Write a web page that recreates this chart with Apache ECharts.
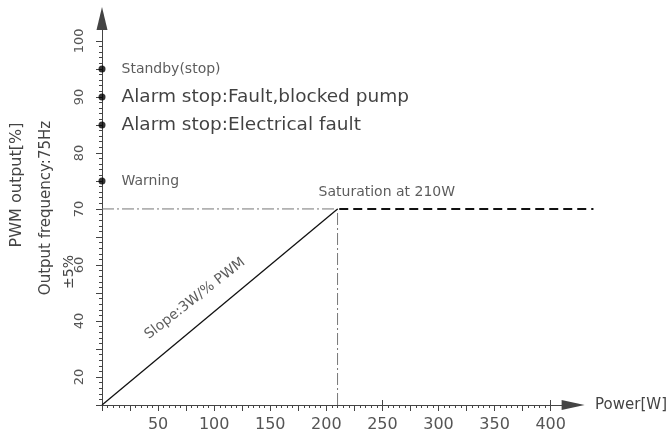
<!DOCTYPE html>
<html>
<head>
<meta charset="utf-8">
<script src="https://cdn.jsdelivr.net/npm/echarts@6/dist/echarts.min.js"></script>
<style>
  html, body { margin: 0; padding: 0; background: #fff; }
  #chart { width: 670px; height: 443px; }
</style>
</head>
<body>
<div id="chart"></div>
<script>
// 刻度标签
const xTickLabels = [50, 100, 150, 200, 250, 300, 350, 400];
const yTickLabels = [20, 40, 60, 70, 80, 90, 100];

// y 轴上的状态点
const markerPct = [95, 90, 85, 75];
const markerText = ['Standby(stop)', 'Alarm stop:Fault,blocked pump', 'Alarm stop:Electrical fault', 'Warning'];
const markerFont = [14, 18.5, 18.5, 14];

// 曲线 [W, %]
const slopeLine = [[0, 10], [210, 70]];
const satLine = [[210, 70], [435, 70]];
const refH = [[0, 70], [210, 70]];
const refV = [[210, 10], [210, 70]];

const FONT = 'DejaVu Sans';

/** y 轴是折断的：60% 以上每格 10%，以下每格 20% */
function toAxis(p) {
  return p >= 60 ? p - 35 : p / 2 - 5;
}
function fromAxis(v) {
  return Math.round(v >= 25 ? v + 35 : (v + 5) * 2);
}
const mapPts = pts => pts.map(([x, p]) => [x, toAxis(p)]);

// 刻度位置（主刻度/次刻度）
const range = (a, b, s) => { const r = []; for (let v = a; v <= b; v += s) r.push(v); return r; };
const xMajor = range(0, 400, 25), xMinor = range(0, 400, 5);
const yMajor = range(0, 65, 5), yMinor = range(0, 65, 1);

const X_MAX = 420, Y_MAX = 69;
const PX_PER_W = 474.5 / X_MAX;
const X_MAX2 = 440;   // 第二个网格：饱和虚线画到箭头之外
const axisColor = '#444';

const hiddenAxis = extra => Object.assign({
  type: 'value', axisLine: { show: false }, axisTick: { show: false },
  axisLabel: { show: false }, splitLine: { show: false },
}, extra);

const chart = echarts.init(document.getElementById('chart'));
chart.setOption({
  animation: false,
  grid: [
    { left: 102, right: 93.5, top: 18.5, bottom: 38 },
    { left: 102, width: X_MAX2 * PX_PER_W, top: 18.5, bottom: 38 },
  ],
  xAxis: [
    {
      type: 'value', min: 0, max: X_MAX, position: 'bottom',
      name: 'Power[W]', nameLocation: 'end', nameGap: 22,
      nameTextStyle: { fontFamily: FONT, fontSize: 15, color: '#444' },
      axisLine: { show: true, symbol: ['none', 'triangle'], symbolSize: [10, 23], lineStyle: { color: axisColor, width: 1 } },
      axisTick: { show: true, customValues: xMajor, length: 6, lineStyle: { color: axisColor } },
      axisLabel: { customValues: xTickLabels, fontFamily: FONT, fontSize: 16, color: '#555', margin: 12 },
      splitLine: { show: false },
    },
    {
      type: 'value', min: 0, max: X_MAX, position: 'bottom',
      axisLine: { show: false },
      axisTick: { show: true, customValues: xMinor, length: 3, lineStyle: { color: axisColor } },
      axisLabel: { show: false },
      splitLine: { show: false },
    },
    {
      // 250 和 400 处穿过轴线的刻度
      type: 'value', min: 0, max: X_MAX, position: 'bottom',
      axisLine: { show: false },
      axisTick: { show: true, inside: true, customValues: [250, 400], length: 5, lineStyle: { color: axisColor } },
      axisLabel: { show: false },
      splitLine: { show: false },
    },
    hiddenAxis({ gridIndex: 1, min: 0, max: X_MAX2 }),
  ],
  yAxis: [
    {
      type: 'value', min: 0, max: Y_MAX, position: 'left',
      axisLine: { show: true, symbol: ['none', 'triangle'], symbolSize: [11, 23], lineStyle: { color: axisColor, width: 1 } },
      axisTick: { show: true, customValues: yMajor, length: 6, lineStyle: { color: axisColor } },
      axisLabel: {
        customValues: yTickLabels.map(toAxis),
        formatter: v => String(fromAxis(v)),
        rotate: 90, fontFamily: FONT, fontSize: 13, color: '#555', margin: 16,
      },
      splitLine: { show: false },
    },
    {
      type: 'value', min: 0, max: Y_MAX, position: 'left',
      axisLine: { show: false },
      axisTick: { show: true, customValues: yMinor, length: 3, lineStyle: { color: axisColor } },
      axisLabel: { show: false },
      splitLine: { show: false },
    },
    hiddenAxis({ gridIndex: 1, min: 0, max: Y_MAX }),
  ],
  graphic: [
    { type: 'text', x: 17, y: 185, rotation: Math.PI / 2,
      style: { text: 'PWM output[%]', font: `16px "${FONT}"`, fill: '#444', align: 'center', verticalAlign: 'middle' } },
    { type: 'text', x: 46, y: 208, rotation: Math.PI / 2,
      style: { text: 'Output frequency:75Hz', font: `15px "${FONT}"`, fill: '#444', align: 'center', verticalAlign: 'middle' } },
    { type: 'text', x: 69, y: 272, rotation: Math.PI / 2,
      style: { text: '±5%', font: `14px "${FONT}"`, fill: '#444', align: 'center', verticalAlign: 'middle' } },
  ],
  series: [
    {
      name: 'refH', type: 'line', data: mapPts(refH), symbol: 'none',
      lineStyle: { color: '#777', width: 1, type: [12, 3, 2, 3] },
    },
    {
      name: 'refV', type: 'line', data: mapPts(refV), symbol: 'none',
      lineStyle: { color: '#777', width: 1, type: [12, 3, 2, 3] },
    },
    {
      name: 'slope', type: 'line', data: mapPts(slopeLine), symbol: 'none',
      lineStyle: { color: '#111', width: 1.3 },
    },
    {
      name: 'saturation', type: 'line', data: mapPts(satLine), symbol: 'none',
      xAxisIndex: 3, yAxisIndex: 2,
      lineStyle: { color: '#111', width: 2, type: [9, 5] },
    },
    {
      name: 'markers', type: 'scatter', clip: false, symbolSize: 7,
      itemStyle: { color: '#000' },
      data: markerPct.map((p, i) => ({
        value: [0, toAxis(p)],
        label: {
          show: true, position: 'right', distance: 16, formatter: markerText[i],
          fontFamily: FONT, fontSize: markerFont[i], color: markerFont[i] > 14 ? '#111' : '#333',
        },
      })),
    },
    {
      // 注释文字
      name: 'notes', type: 'scatter', clip: false, symbolSize: 0,
      data: [
        { value: [210, toAxis(70)],
          label: { show: true, position: [-19, -24], formatter: 'Saturation at 210W', fontFamily: FONT, fontSize: 14, color: '#333' } },
        { value: [83, toAxis(48)],
          label: { show: true, position: 'inside', rotate: 38, formatter: 'Slope:3W/% PWM', fontFamily: FONT, fontSize: 14, color: '#333' } },
      ],
    },
  ],
});
</script>
</body>
</html>
